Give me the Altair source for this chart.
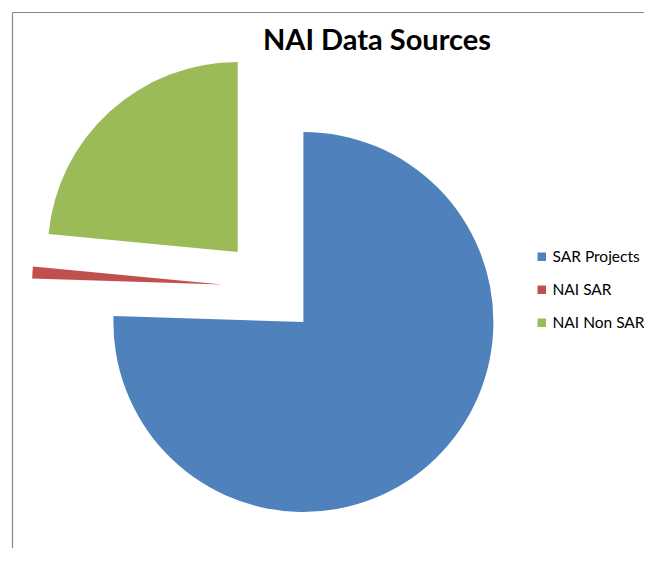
import altair as alt
import pandas as pd

# ---- data ----
categories = ["SAR Projects", "NAI SAR", "NAI Non SAR"]
values = [75.5, 1.0, 23.5]
order = [0, 1, 2]
colors = ["#4F81BD", "#C0504D", "#9BBB59"]
title_text = "NAI Data Sources"

# ---- layout / style ----
W, H = 636, 540
CX, CY = 262.0, 279.5   # pie centre (before explosion)
R = 190                 # pie radius
EXPLODE = 48            # explosion distance
FONT = "Lato"

df = pd.DataFrame({"category": categories, "value": values, "order": order})

pie = (
    alt.Chart(df)
    .transform_joinaggregate(total="sum(value)")
    .transform_window(cum="sum(value)", sort=[alt.SortField("order")], frame=[None, 0])
    .transform_calculate(
        start="(datum.cum - datum.value) / datum.total * 2 * PI",
        end="datum.cum / datum.total * 2 * PI",
    )
    .transform_calculate(mid="(datum.start + datum.end) / 2")
    .transform_calculate(
        cx=f"{CX} + {EXPLODE} * sin(datum.mid)",
        cy=f"{CY} - {EXPLODE} * cos(datum.mid)",
    )
    .mark_arc(radius=R, stroke=None)
    .encode(
        theta=alt.Theta("start:Q", scale=None),
        theta2="end:Q",
        x=alt.X("cx:Q", scale=None, axis=None),
        y=alt.Y("cy:Q", scale=None, axis=None),
        color=alt.Color(
            "category:N",
            scale=alt.Scale(domain=categories, range=colors),
            sort=categories,
            legend=alt.Legend(
                title=None,
                orient="none",
                legendX=526,
                legendY=241,
                symbolType="square",
                symbolSize=72,
                symbolStrokeWidth=0,
                labelFont=FONT,
                labelFontSize=15.5,
                labelColor="#000000",
                labelOffset=3,
                rowPadding=16,
                padding=0,
            ),
        ),
        order=alt.Order("order:Q"),
    )
)

title = (
    alt.Chart(pd.DataFrame({"t": [title_text]}))
    .mark_text(font=FONT, fontSize=29, fontWeight="bold", color="#000000", baseline="alphabetic", align="center")
    .encode(text="t:N", x=alt.value(369), y=alt.value(42))
)

frame_top = alt.Chart(pd.DataFrame({"a": [0]})).mark_rule(color="#868686", strokeWidth=1.2).encode(
    x=alt.value(4.5), x2=alt.value(W), y=alt.value(4.5)
)
frame_left = alt.Chart(pd.DataFrame({"a": [0]})).mark_rule(color="#868686", strokeWidth=1.2).encode(
    x=alt.value(4.5), y=alt.value(4.5), y2=alt.value(H)
)

chart = (
    alt.layer(frame_top, frame_left, pie, title)
    .properties(width=W, height=H, padding=0, autosize=alt.AutoSizeParams(type="none"))
    .configure_view(stroke=None)
)

chart.save("out.html", embed_options={"renderer": "svg", "actions": False})
